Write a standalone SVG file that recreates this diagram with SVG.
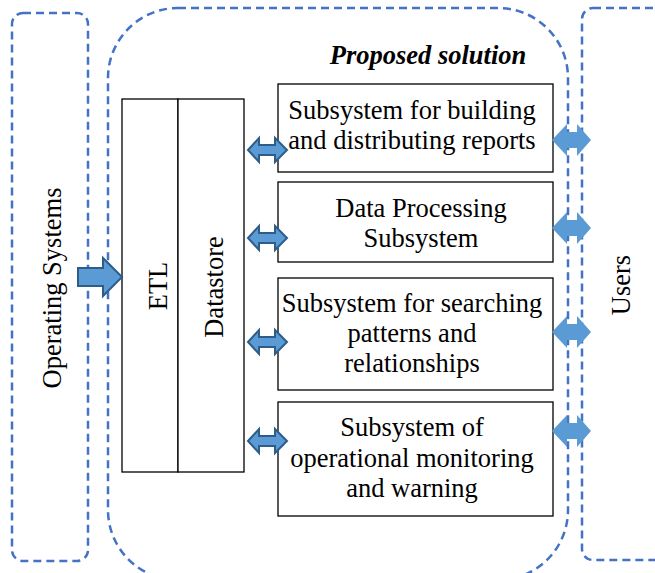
<svg xmlns="http://www.w3.org/2000/svg" width="655" height="573" viewBox="0 0 655 573">
<style>
.dash{fill:none;stroke:#4472C4;stroke-width:2.5;stroke-dasharray:8 5}
.box{fill:#fff;stroke:#000;stroke-width:1.3}
.t{font-family:"Liberation Serif","Times New Roman",serif;font-size:26.5px;fill:#000;text-anchor:middle}
.ti{font-family:"Liberation Serif","Times New Roman",serif;font-size:26.5px;font-weight:bold;font-style:italic;fill:#000;text-anchor:middle}
.da{fill:#5B9BD5;stroke:#2F5D8A;stroke-width:2;stroke-linejoin:miter}
.ua{fill:#5B9BD5;stroke:none}
</style>
<rect width="655" height="573" fill="#fff"/>
<g id="operating-systems">
<rect class="dash" x="12" y="13" width="76" height="548" rx="11"/>
<text class="t" transform="translate(61,288) rotate(-90)">Operating Systems</text>
</g>
<g id="proposed-solution">
<rect class="dash" x="108" y="8" width="460" height="572" rx="70"/>
<text class="ti" x="428" y="64">Proposed solution</text>
</g>
<g id="users">
<rect class="dash" x="582" y="8" width="90" height="552" rx="11"/>
<text class="t" transform="translate(630,285) rotate(-90)">Users</text>
</g>
<g id="etl">
<rect class="box" x="122" y="99" width="56" height="373"/>
<text class="t" transform="translate(167,286) rotate(-90)">ETL</text>
</g>
<g id="datastore">
<rect class="box" x="178" y="99" width="66" height="373"/>
<text class="t" transform="translate(223,287) rotate(-90)">Datastore</text>
</g>
<g id="reports">
<rect class="box" x="278" y="84" width="275" height="88"/>
<text class="t" x="412" y="119">Subsystem for building</text>
<text class="t" x="412" y="149">and distributing reports</text>
</g>
<g id="processing">
<rect class="box" x="278" y="182" width="275" height="80"/>
<text class="t" x="421" y="217">Data Processing</text>
<text class="t" x="421" y="247">Subsystem</text>
</g>
<g id="searching">
<rect class="box" x="278" y="278" width="275" height="112"/>
<text class="t" x="412" y="312">Subsystem for searching</text>
<text class="t" x="412" y="342">patterns and</text>
<text class="t" x="412" y="372">relationships</text>
</g>
<g id="monitoring">
<rect class="box" x="278" y="402" width="275" height="114"/>
<text class="t" x="412" y="436">Subsystem of</text>
<text class="t" x="412" y="467">operational monitoring</text>
<text class="t" x="412" y="497">and warning</text>
</g>
<g id="connectors">
<path class="da" d="M78,268 H103 V258 L122,277 L103,296 V286 H78 Z"/>
<path class="da" d="M248,150 L259,138 V145 H275 V138 L287,150 L275,162 V155 H259 V162 Z"/>
<path class="da" d="M248,238 L259,226 V233 H275 V226 L287,238 L275,250 V243 H259 V250 Z"/>
<path class="da" d="M248,342 L259,330 V337 H275 V330 L287,342 L275,354 V347 H259 V354 Z"/>
<path class="da" d="M248,441 L259,429 V436 H275 V429 L287,441 L275,453 V446 H259 V453 Z"/>
<path class="ua" d="M552,140 L567,124 V132 H577 V124 L591,140 L577,156 V148 H567 V156 Z"/>
<path class="ua" d="M552,228 L567,212 V220 H577 V212 L591,228 L577,244 V236 H567 V244 Z"/>
<path class="ua" d="M552,332 L567,316 V324 H577 V316 L591,332 L577,348 V340 H567 V348 Z"/>
<path class="ua" d="M552,431 L567,415 V423 H577 V415 L591,431 L577,447 V439 H567 V447 Z"/>
</g>
</svg>
